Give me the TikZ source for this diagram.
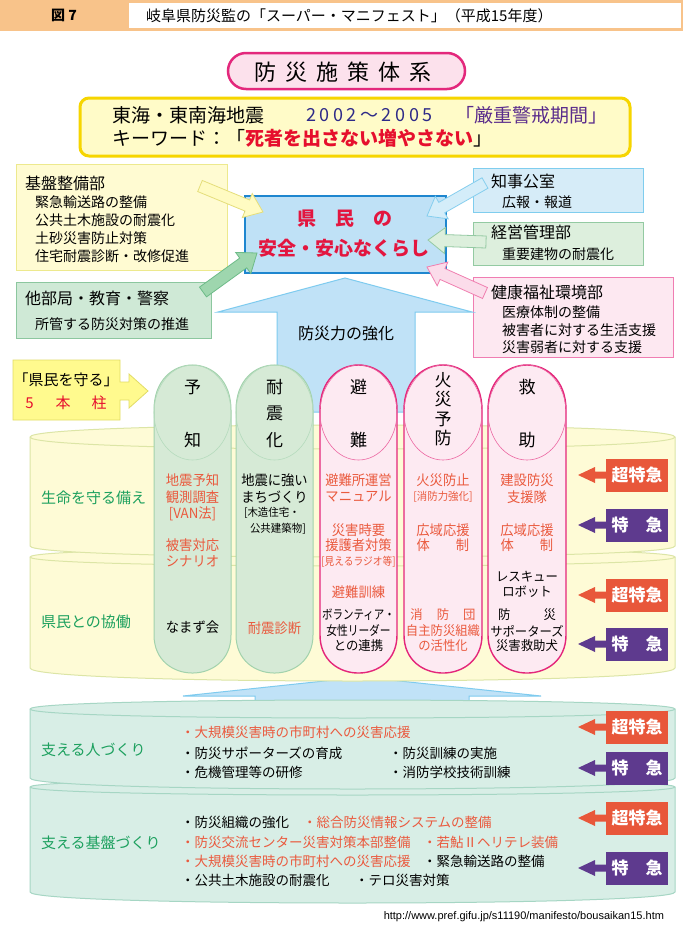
\documentclass[tikz,border=0pt]{standalone}
\usepackage{fontspec}
\usepackage{graphicx}
\setmainfont{Noto Sans CJK JP}
\newfontfamily\cnd[FakeStretch=0.95]{Noto Sans CJK JP}
\newfontfamily\wsp[LetterSpace=20]{Noto Sans CJK JP}
\newfontfamily\urlf{Liberation Sans}
\usetikzlibrary{calc}
\newcommand\fs[2]{\fontsize{#1}{#2}\selectfont}
\definecolor{hdr}{HTML}{F8C38A}
\definecolor{pillfill}{HTML}{FCE1EC}
\definecolor{pillbd}{HTML}{E3287C}
\definecolor{kwfill}{HTML}{FFFBC8}
\definecolor{kwbd}{HTML}{F6D500}
\definecolor{navytxt}{HTML}{2E2A88}
\definecolor{purptxt}{HTML}{5A2C8C}
\definecolor{kwred}{HTML}{E60F2D}
\definecolor{lyfill}{HTML}{FFFBD2}
\definecolor{lybd}{HTML}{EDE98E}
\definecolor{lgfill}{HTML}{CFE9D6}
\definecolor{lgbd}{HTML}{8CC79F}
\definecolor{lbfill}{HTML}{D6ECF8}
\definecolor{lbbd}{HTML}{7FCDEE}
\definecolor{rgfill}{HTML}{DDEFDD}
\definecolor{rgbd}{HTML}{93CAA2}
\definecolor{pkfill}{HTML}{FDE8F1}
\definecolor{pkbd}{HTML}{F07DB2}
\definecolor{ctrfill}{HTML}{BFE1F6}
\definecolor{ctrbd}{HTML}{1E86CF}
\definecolor{ctrred}{HTML}{E3163F}
\definecolor{bigfill}{HTML}{C0E2F7}
\definecolor{bigbd}{HTML}{7ECBEF}
\definecolor{yarfill}{HTML}{FFFBC2}
\definecolor{yarbd}{HTML}{E5DE7A}
\definecolor{garfill}{HTML}{9ED6AE}
\definecolor{garbd}{HTML}{6DBB88}
\definecolor{barfill}{HTML}{D4EDF9}
\definecolor{barbd}{HTML}{85CEEE}
\definecolor{g2fill}{HTML}{DCEFDC}
\definecolor{g2bd}{HTML}{94C9A3}
\definecolor{parfill}{HTML}{FBDCEA}
\definecolor{parbd}{HTML}{F07FB0}
\definecolor{pilfill}{HTML}{FFFA8E}
\definecolor{pilbd}{HTML}{E1DC66}
\definecolor{cyfill}{HTML}{FEFBD6}
\definecolor{cybd}{HTML}{DCE5A6}
\definecolor{cgfill}{HTML}{D8EEE6}
\definecolor{cgbd}{HTML}{A6D6C4}
\definecolor{pgfill}{HTML}{D6EAD6}
\definecolor{pgbd}{HTML}{A2D2AC}
\definecolor{ppfill}{HTML}{FDEAF2}
\definecolor{ppbd}{HTML}{E4267A}
\definecolor{ored}{HTML}{EA5A3E}
\definecolor{lblgreen}{HTML}{1CA05E}
\definecolor{tagred}{HTML}{E8573A}
\definecolor{tagpur}{HTML}{5E3A8E}
% block arrow: style, tail, tip, half shaft, half head, head length
\newcommand\barrow[6]{%
 \coordinate (bh) at ($(#3)!#6!(#2)$);
 \filldraw[#1] ($(#2)!#4!90:(#3)$) -- ($(bh)!#4!90:(#3)$) -- ($(bh)!#5!90:(#3)$) -- (#3) -- ($(bh)!#5!-90:(#3)$) -- ($(bh)!#4!-90:(#3)$) -- ($(#2)!#4!-90:(#3)$) -- cycle;}
% cylinder band: style, top y, top ry, side bottom y, bottom ry
\newcommand\cyl[5]{%
 \filldraw[#1] (30,#2) .. controls (30,{#2-1.333*#3}) and (675,{#2-1.333*#3}) .. (675,#2) -- (675,#4) .. controls (675,{#4+1.333*#5}) and (30,{#4+1.333*#5}) .. (30,#4) -- cycle;
 \draw[#1] (30,#2) .. controls (30,{#2+1.333*#3}) and (675,{#2+1.333*#3}) .. (675,#2);}
% pillar: style, x1, x2, faint style
\newcommand\pillar[4]{%
 \filldraw[#1] (#2,410) .. controls (#2,350) and (#3,350) .. (#3,410) -- (#3,635) .. controls (#3,685.7) and (#2,685.7) .. (#2,635) -- cycle;
 \draw[#4] ({(#2+#3)/2},412.5) ellipse [x radius={(#3-#2)/2}, y radius=47.5];}
% urgency tag: name, centre y, colour, text
\newcommand\urg[4]{%
 \fill[#3] (578,#2) -- (595,{#2-8}) -- (595,{#2-3.5}) -- (606,{#2-3.5}) -- (606,{#2+3.5}) -- (595,{#2+3.5}) -- (595,{#2+8}) -- cycle;
 \node[fill=#3, minimum width=62, minimum height=33, text=white, font=\bfseries\fs{17}{19}] (#1) at (637,#2) {#4};}
\begin{document}
\begin{tikzpicture}[x=1pt,y=-1pt,
  every node/.style={inner sep=0pt,outer sep=0pt},
  hd/.style={anchor=west,font=\fs{16}{18}},
  it/.style={anchor=west,font=\fs{14}{17}},
  pc/.style={font=\cnd\fs{14}{16}},
  pcs/.style={font=\cnd\fs{13}{15}},
  psm/.style={font=\cnd\fs{11}{13}},
  ptit/.style={font=\fs{17}{19}},
  lbl/.style={anchor=west,font=\fs{15}{17},text=lblgreen},
  lw/.style={anchor=west,font=\fs{13.5}{16}},
  cyst/.style={draw=cybd,fill=cyfill,line width=1pt},
  cgst/.style={draw=cgbd,fill=cgfill,line width=1pt},
  pgst/.style={draw=pgbd,fill=pgfill,line width=1pt},
  ppst/.style={draw=ppbd,fill=ppfill,line width=1.4pt},
  bigst/.style={draw=bigbd,fill=bigfill,line width=1pt}]
\useasboundingbox (0,0) rectangle (683,929);
\fill[white] (0,0) rectangle (683,929);
% header
\fill[hdr] (0,0) rectangle (683,31);
\node[fill=white, minimum width=552, minimum height=25, anchor=north west] (hbox) at (129,3) {};
\node[font=\bfseries\fs{14}{16}] (fig) at (64,15.5) {図 7};
\node[anchor=west,font=\fs{15}{17}] (htitle) at (146,15.5) {岐阜県防災監の「スーパー・マニフェスト」（平成15年度）};
% title pill
\node[draw=pillbd, fill=pillfill, line width=2.5pt, rounded corners=18pt, minimum width=237, minimum height=36] (pill) at (346.5,71) {};
\node[font=\fs{22}{24}] (pilltxt) at (343,72) {防\hspace{9pt}災\hspace{9pt}施\hspace{9pt}策\hspace{9pt}体\hspace{9pt}系};
% keyword box
\node[draw=kwbd, fill=kwfill, line width=3pt, rounded corners=9pt, minimum width=550, minimum height=58] (kw) at (355,127) {};
\node[anchor=west,font=\fs{19}{21}] (kw1a) at (112,115) {東海・東南海地震};
\node[anchor=west,font=\wsp\fs{18}{21},text=navytxt] (kw1b) at (306,115) {2002～2005};
\node[anchor=west,font=\fs{19}{21},text=purptxt] (kw1c) at (455,115) {「厳重警戒期間」};
\node[anchor=west,font=\fs{19}{21}] (kw2) at (112,138) {キーワード：「{\bfseries\color{kwred}死者を出さない増やさない}」};
% left boxes
\node[draw=lybd, fill=lyfill, line width=1pt, minimum width=211, minimum height=106] (kiban) at (121.5,217) {};
\node[draw=lgbd, fill=lgfill, line width=1pt, minimum width=195, minimum height=56] (tabu) at (113.5,310) {};
% right boxes
\node[draw=lbbd, fill=lbfill, line width=1pt, minimum width=170, minimum height=44] (chiji) at (558,190) {};
\node[draw=rgbd, fill=rgfill, line width=1pt, minimum width=170, minimum height=43] (keiei) at (558,243.5) {};
\node[draw=pkbd, fill=pkfill, line width=1pt, minimum width=200, minimum height=80] (kenko) at (573,317) {};
% centre box
\node[draw=ctrbd, fill=ctrfill, line width=2.5pt, minimum width=201, minimum height=77] (ctr) at (345.5,234.5) {};
\node[font=\bfseries\fs{19}{21},text=ctrred] (ctr1) at (345,219) {県\hspace{19pt}民\hspace{19pt}の};
\node[font=\bfseries\fs{19}{21},text=ctrred] (ctr2) at (344,248) {安全・安心なくらし};
% arrows into the centre box
\coordinate (yA) at (200,186); \coordinate (yB) at (263,212);
\barrow{draw=yarbd,fill=yarfill,line width=0.8pt}{yA}{yB}{6pt}{13pt}{17pt}
\coordinate (gA) at (203,292); \coordinate (gB) at (257,253);
\barrow{draw=garbd,fill=garfill,line width=0.8pt}{gA}{gB}{6pt}{13pt}{17pt}
\coordinate (bA) at (485,183); \coordinate (bB) at (427,216);
\barrow{draw=barbd,fill=barfill,line width=0.8pt}{bA}{bB}{6pt}{13pt}{17pt}
\coordinate (g2A) at (486,242); \coordinate (g2B) at (428,240);
\barrow{draw=g2bd,fill=g2fill,line width=0.8pt}{g2A}{g2B}{6pt}{13pt}{17pt}
\coordinate (pA) at (485,293); \coordinate (pB) at (427,267);
\barrow{draw=parbd,fill=parfill,line width=0.8pt}{pA}{pB}{6pt}{13pt}{17pt}
% box texts
\node[hd] (kibanh) at (25,183) {基盤整備部};
\node[it] (kiban1) at (35,202) {緊急輸送路の整備};
\node[it] (kiban2) at (35,220) {公共土木施設の耐震化};
\node[it] (kiban3) at (35,238) {土砂災害防止対策};
\node[it] (kiban4) at (35,256) {住宅耐震診断・改修促進};
\node[hd] (tabuh) at (25,298) {他部局・教育・警察};
\node[it] (tabu1) at (35,324) {所管する防災対策の推進};
\node[hd] (chijih) at (491,181) {知事公室};
\node[it] (chiji1) at (502,202) {広報・報道};
\node[hd] (keieih) at (491,232) {経営管理部};
\node[it] (keiei1) at (502,254) {重要建物の耐震化};
\node[hd] (kenkoh) at (491,292) {健康福祉環境部};
\node[it] (kenko1) at (502,312) {医療体制の整備};
\node[it] (kenko2) at (502,330) {被害者に対する生活支援};
\node[it] (kenko3) at (502,347) {災害弱者に対する支援};
% big arrow 1
\filldraw[bigst] (345,278) -- (472,312) -- (415,312) -- (415,412) -- (277,412) -- (277,312) -- (218,312) -- cycle;
\node[font=\fs{16}{18}] (kyoka) at (346,333) {防災力の強化};
% five pillars label
\filldraw[draw=pilbd, fill=pilfill, line width=0.8pt] (13,360) -- (120,360) -- (120,382) -- (129,382) -- (129,374) -- (148,391) -- (129,408) -- (129,400) -- (120,400) -- (120,420) -- (13,420) -- cycle;
\node[font=\fs{15}{17}] (mamoru) at (66,380) {「県民を守る」};
\node[font=\fs{15}{17},text=kwred] (hashira) at (66,403) {5\hspace{22pt}本\hspace{21pt}柱};
% big arrow 2
\filldraw[bigst] (362,677) -- (541,696) -- (469,696) -- (469,714) -- (255,714) -- (255,696) -- (183,696) -- cycle;
% upper cylinder
\cyl{cyst}{557}{9}{668}{13}
\cyl{cyst}{437}{12}{546}{11}
% pillars
\pillar{pgst}{154}{231}{draw=pgbd!80,line width=0.6pt}
\pillar{pgst}{236}{313}{draw=pgbd!80,line width=0.6pt}
\pillar{ppst}{320}{397}{draw=ppbd!70,line width=0.6pt}
\pillar{ppst}{404}{482}{draw=ppbd!70,line width=0.6pt}
\pillar{ppst}{488}{566}{draw=ppbd!70,line width=0.6pt}
% pillar 1
\node[ptit] (p1a) at (192.5,387) {予};
\node[ptit] (p1b) at (192.5,440) {知};
\node[pc,text=ored] (p1c) at (192.5,480) {地震予知};
\node[pc,text=ored] (p1d) at (192.5,497) {観測調査};
\node[pc,text=ored] (p1e) at (192.5,514) {[VAN法]};
\node[pc,text=ored] (p1f) at (192.5,545) {被害対応};
\node[pc,text=ored] (p1g) at (192.5,561) {シナリオ};
\node[pc] (p1h) at (192.5,627) {なまず会};
% pillar 2
\node[ptit] (p2a) at (274.5,387) {耐};
\node[ptit] (p2b) at (274.5,413) {震};
\node[ptit] (p2c) at (274.5,440) {化};
\node[pc] (p2d) at (274.5,480) {地震に強い};
\node[pc] (p2e) at (274.5,497) {まちづくり};
\node[psm,anchor=west] (p2f) at (244,513) {[木造住宅・};
\node[psm,anchor=west] (p2g) at (250,529) {公共建築物]};
\node[pc,text=ored] (p2h) at (274.5,628) {耐震診断};
% pillar 3
\node[ptit] (p3a) at (358.5,387) {避};
\node[ptit] (p3b) at (358.5,440) {難};
\node[pc,text=ored] (p3c) at (358.5,480) {避難所運営};
\node[pc,text=ored] (p3d) at (358.5,497) {マニュアル};
\node[pc,text=ored] (p3e) at (358.5,530) {災害時要};
\node[pc,text=ored] (p3f) at (358.5,545) {援護者対策};
\node[psm,text=ored] (p3g) at (358.5,562) {\scalebox{0.93}[1]{[見えるラジオ等]}};
\node[pc,text=ored] (p3h) at (358.5,592) {避難訓練};
\node[pcs] (p3i) at (358.5,615) {\scalebox{0.85}[1]{ボランティア・}};
\node[pcs] (p3j) at (358.5,631) {\scalebox{0.87}[1]{女性リーダー}};
\node[pcs] (p3k) at (358.5,646) {との連携};
% pillar 4
\node[ptit] (p4a) at (443,380) {火};
\node[ptit] (p4b) at (443,399) {災};
\node[ptit] (p4c) at (443,419) {予};
\node[ptit] (p4d) at (443,438) {防};
\node[pc,text=ored] (p4e) at (443,480) {火災防止};
\node[psm,text=ored] (p4f) at (443,497) {[消防力強化]};
\node[pc,text=ored] (p4g) at (443,530) {広域応援};
\node[pc,text=ored] (p4h) at (443,545) {体\hspace{26pt}制};
\node[pcs,text=ored] (p4i) at (443,615) {消\hspace{14pt}防\hspace{14pt}団};
\node[pcs,text=ored] (p4j) at (443,631) {自主防災組織};
\node[pcs,text=ored] (p4k) at (443,646) {の活性化};
% pillar 5
\node[ptit] (p5a) at (527,387) {救};
\node[ptit] (p5b) at (527,440) {助};
\node[pc,text=ored] (p5c) at (527,480) {建設防災};
\node[pc,text=ored] (p5d) at (527,497) {支援隊};
\node[pc,text=ored] (p5e) at (527,530) {広域応援};
\node[pc,text=ored] (p5f) at (527,545) {体\hspace{26pt}制};
\node[pcs] (p5g) at (527,577) {レスキュー};
\node[pcs] (p5h) at (527,592) {ロボット};
\node[pcs] (p5i) at (527,615) {防\hspace{33pt}災};
\node[pcs] (p5j) at (527,631) {サポーターズ};
\node[pcs] (p5k) at (527,646) {災害救助犬};
% band labels (upper)
\node[lbl] (lb1) at (41,498) {生命を守る備え};
\node[lbl] (lb2) at (41,622) {県民との協働};
\urg{t1}{475}{tagred}{超特急}
\urg{t2}{525}{tagpur}{特\hspace{17pt}急}
\urg{t3}{595}{tagred}{超特急}
\urg{t4}{644}{tagpur}{特\hspace{17pt}急}
% lower cylinder
\cyl{cgst}{787}{8}{892}{11}
\cyl{cgst}{709}{9}{778}{11}
\node[lbl] (lb3) at (41,750) {支える人づくり};
\node[lbl] (lb4) at (41,843) {支える基盤づくり};
\node[lw,text=ored] (h1) at (181,732) {・大規模災害時の市町村への災害応援};
\node[lw] (h2) at (181,753) {・防災サポーターズの育成};
\node[lw] (h3) at (389,753) {・防災訓練の実施};
\node[lw] (h4) at (181,772) {・危機管理等の研修};
\node[lw] (h5) at (389,772) {・消防学校技術訓練};
\node[lw] (k1) at (181,822) {・防災組織の強化};
\node[lw,text=ored] (k2) at (303,822) {・総合防災情報システムの整備};
\node[lw,text=ored] (k3) at (181,842) {・防災交流センター災害対策本部整備};
\node[lw,text=ored] (k4) at (423,842) {・若鮎Ⅱヘリテレ装備};
\node[lw,text=ored] (k5) at (181,861) {・大規模災害時の市町村への災害応援};
\node[lw] (k6) at (423,861) {・緊急輸送路の整備};
\node[lw] (k7) at (181,880) {・公共土木施設の耐震化};
\node[lw] (k8) at (355,880) {・テロ災害対策};
\urg{t5}{727}{tagred}{超特急}
\urg{t6}{768}{tagpur}{特\hspace{17pt}急}
\urg{t7}{818}{tagred}{超特急}
\urg{t8}{868}{tagpur}{特\hspace{17pt}急}
% source
\node[anchor=east,font=\urlf\fs{11}{13}] (url) at (664,917) {http://www.pref.gifu.jp/s11190/manifesto/bousaikan15.htm};
\end{tikzpicture}
\end{document}
